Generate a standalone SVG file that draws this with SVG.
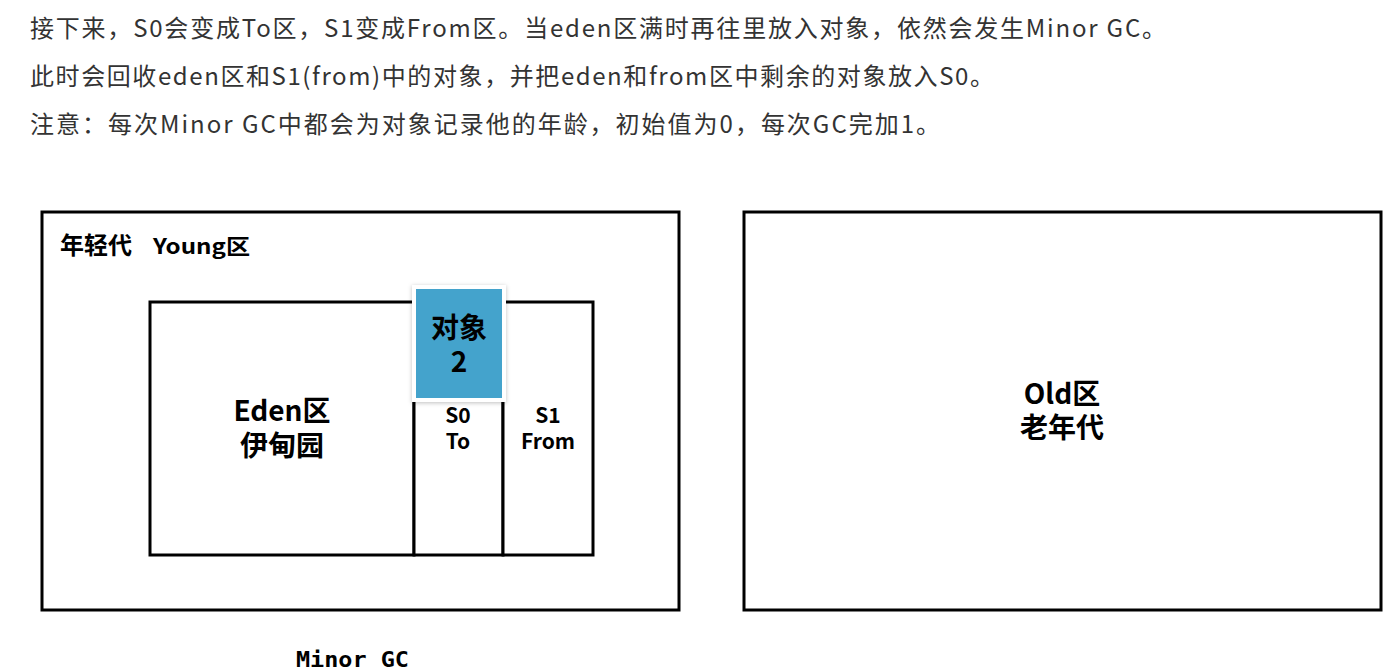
<svg xmlns="http://www.w3.org/2000/svg" width="1399" height="670" viewBox="0 0 1399 670">
  <defs>
    <style>
      .hdr { font-family: "Noto Sans CJK SC", "Noto Sans", sans-serif; font-size: 24px; fill: #333333; }
      .lbl { font-family: "Noto Sans CJK SC", "Noto Sans", sans-serif; font-weight: bold; fill: #000000; text-anchor: middle; }
      .box { fill: #ffffff; stroke: #000000; stroke-width: 3; }
      .mono { font-family: "DejaVu Sans Mono", "Liberation Mono", monospace; font-weight: bold; font-size: 22px; fill: #000000; }
    </style>
    <filter id="sh" x="-20%" y="-20%" width="140%" height="140%">
      <feDropShadow dx="0" dy="1" stdDeviation="2" flood-color="#000000" flood-opacity="0.25"/>
    </filter>
  </defs>
  <rect x="0" y="0" width="1399" height="670" fill="#ffffff"/>

  <g id="header">
    <text class="hdr" x="30" y="37" textLength="1136" lengthAdjust="spacing">接下来，S0会变成To区，S1变成From区。当eden区满时再往里放入对象，依然会发生Minor GC。</text>
    <text class="hdr" x="30" y="85" textLength="964" lengthAdjust="spacing">此时会回收eden区和S1(from)中的对象，并把eden和from区中剩余的对象放入S0。</text>
    <text class="hdr" x="30" y="133" textLength="910" lengthAdjust="spacing">注意：每次Minor GC中都会为对象记录他的年龄，初始值为0，每次GC完加1。</text>
  </g>

  <g id="young">
    <rect class="box" x="42" y="212" width="637" height="398"/>
    <text class="lbl" x="60" y="254" font-size="24" style="text-anchor:start">年轻代</text>
    <text class="lbl" x="153" y="254" font-size="21" style="text-anchor:start" textLength="97" lengthAdjust="spacingAndGlyphs">Young区</text>
  </g>

  <g id="eden">
    <rect class="box" x="150" y="302" width="264" height="253"/>
    <text class="lbl" font-size="28"><tspan x="282" y="421">Eden区</tspan><tspan x="282" y="456">伊甸园</tspan></text>
  </g>

  <g id="s0">
    <rect class="box" x="414" y="302" width="89" height="253"/>
    <text class="lbl" font-size="21"><tspan x="458" y="423">S0</tspan><tspan x="458" y="449">To</tspan></text>
  </g>

  <g id="s1">
    <rect class="box" x="503" y="302" width="90" height="253"/>
    <text class="lbl" font-size="21"><tspan x="548" y="423">S1</tspan><tspan x="548" y="449">From</tspan></text>
  </g>

  <g id="object2">
    <rect x="412" y="285" width="94" height="117" fill="#ffffff" filter="url(#sh)"/>
    <rect x="416" y="289" width="86" height="109" fill="#44a3cc"/>
    <text class="lbl" font-size="28"><tspan x="459" y="338">对象</tspan><tspan x="459" y="372">2</tspan></text>
  </g>

  <g id="old">
    <rect class="box" x="744" y="212" width="637" height="398"/>
    <text class="lbl" font-size="28"><tspan x="1062" y="404">Old区</tspan><tspan x="1062" y="438">老年代</tspan></text>
  </g>

  <g id="connectors"></g>

  <g id="caption">
    <text class="mono" x="296" y="667" textLength="113" lengthAdjust="spacingAndGlyphs">Minor GC</text>
  </g>
</svg>
